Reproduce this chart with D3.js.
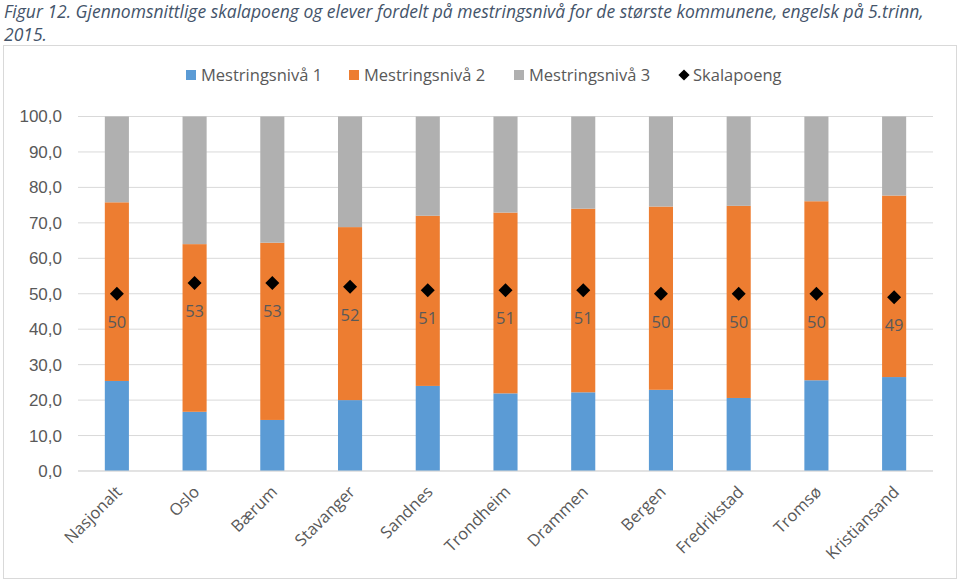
<!DOCTYPE html>
<html>
<head>
<meta charset="utf-8">
<script src="https://cdn.jsdelivr.net/npm/d3@7"></script>
<style>
  body { margin: 0; background: #fff; }
  svg { display: block; font-family: "Open Sans", sans-serif; }
</style>
</head>
<body>
<svg id="chart"></svg>
<script>
  // data
  const kommuner = ["Nasjonalt", "Oslo", "Bærum", "Stavanger", "Sandnes", "Trondheim",
                    "Drammen", "Bergen", "Fredrikstad", "Tromsø", "Kristiansand"];
  const niva1 = [25.4, 16.7, 14.4, 20.0, 24.0, 21.9, 22.2, 22.9, 20.6, 25.6, 26.5];
  const niva2 = [50.4, 47.3, 50.0, 48.8, 48.0, 51.0, 51.8, 51.7, 54.2, 50.5, 51.2];
  const niva3 = [24.2, 36.0, 35.6, 31.2, 28.0, 27.1, 26.0, 25.4, 25.2, 23.9, 22.3];
  const skalapoeng = [50, 53, 53, 52, 51, 51, 51, 50, 50, 50, 49];
  const yTicks = [0, 10, 20, 30, 40, 50, 60, 70, 80, 90, 100];
  const seriesNames = ["Mestringsnivå 1", "Mestringsnivå 2", "Mestringsnivå 3"];
  const colors = ["#5B9BD5", "#ED7D31", "#B0B0B0"];

  const width = 960, height = 581;
  const margin = { left: 78, right: 27, top: 116.5, bottom: 110 };

  const svg = d3.select("#chart").attr("width", width).attr("height", height);

  // caption
  const title = svg.append("text")
      .attr("fill", "#44546A")
      .style("font-style", "italic")
      .style("font-size", "17.5px");
  title.append("tspan").attr("x", 4).attr("y", 18)
      .text("Figur 12. Gjennomsnittlige skalapoeng og elever fordelt på mestringsnivå for de største kommunene, engelsk på 5.trinn,");
  title.append("tspan").attr("x", 4).attr("y", 41).text("2015.");

  // chart frame
  svg.append("rect")
      .attr("x", 3.5).attr("y", 45.5)
      .attr("width", 953).attr("height", 533)
      .attr("fill", "#fff").attr("stroke", "#D9D9D9");

  const x = d3.scaleBand()
      .domain(kommuner)
      .range([margin.left, width - margin.right])
      .paddingInner(0.69).paddingOuter(0.345);

  const y = d3.scaleLinear()
      .domain([0, 100])
      .range([height - margin.bottom, margin.top]);

  // gridlines
  svg.append("g")
      .selectAll("line")
      .data(yTicks)
      .enter().append("line")
      .attr("x1", margin.left).attr("x2", width - margin.right)
      .attr("y1", d => y(d)).attr("y2", d => y(d))
      .attr("stroke", "#D9D9D9").attr("stroke-width", 1);

  // y axis labels
  const yAxis = svg.append("g")
      .attr("transform", "translate(" + margin.left + ",0)")
      .call(d3.axisLeft(y).tickValues(yTicks).tickSize(0).tickPadding(16)
        .tickFormat(d => d3.format(".1f")(d).replace(".", ",")));
  yAxis.select(".domain").remove();
  yAxis.selectAll("text").attr("fill", "#595959").style("font-size", "17px");

  // stacked bars
  const rows = kommuner.map((k, i) => ({ k: k, n1: niva1[i], n2: niva2[i], n3: niva3[i] }));
  const stack = d3.stack().keys(["n1", "n2", "n3"])(rows);

  svg.append("g")
      .selectAll("g")
      .data(stack)
      .enter().append("g")
      .attr("fill", (d, i) => colors[i])
      .selectAll("rect")
      .data(d => d)
      .enter().append("rect")
      .attr("x", d => x(d.data.k))
      .attr("width", x.bandwidth())
      .attr("y", d => y(d[1]))
      .attr("height", d => y(d[0]) - y(d[1]));

  // axis line
  svg.append("line")
      .attr("x1", margin.left).attr("x2", width - margin.right)
      .attr("y1", y(0)).attr("y2", y(0))
      .attr("stroke", "#D9D9D9");

  // skalapoeng markers
  const diamond = d3.symbol().type(d3.symbolDiamond2).size(125);
  svg.append("g")
      .selectAll("path")
      .data(skalapoeng)
      .enter().append("path")
      .attr("d", diamond)
      .attr("fill", "#000")
      .attr("transform", (d, i) => "translate(" + (x(kommuner[i]) + x.bandwidth() / 2) + "," + y(d) + ")");

  svg.append("g")
      .selectAll("text")
      .data(skalapoeng)
      .enter().append("text")
      .attr("x", (d, i) => x(kommuner[i]) + x.bandwidth() / 2)
      .attr("y", d => y(d) + 34)
      .attr("text-anchor", "middle")
      .attr("fill", "#595959")
      .style("font-size", "16.5px")
      .text(d => d);

  // category labels
  svg.append("g")
      .selectAll("text")
      .data(kommuner)
      .enter().append("text")
      .attr("text-anchor", "end")
      .attr("fill", "#595959")
      .style("font-size", "16.5px")
      .attr("transform", d => "translate(" + (x(d) + x.bandwidth() / 2 + 6) + "," + (y(0) + 22) + ") rotate(-45)")
      .text(d => d);

  // legend
  const legendItems = [
    { label: seriesNames[0], color: colors[0], x: 186 },
    { label: seriesNames[1], color: colors[1], x: 349 },
    { label: seriesNames[2], color: colors[2], x: 514 },
    { label: "Skalapoeng", color: "#000", x: 678, marker: true }
  ];
  const legend = svg.append("g").selectAll("g")
      .data(legendItems)
      .enter().append("g")
      .attr("transform", d => "translate(" + d.x + ",75)");
  legend.filter(d => !d.marker).append("rect")
      .attr("x", 0).attr("y", -5).attr("width", 10).attr("height", 10)
      .attr("fill", d => d.color);
  legend.filter(d => d.marker).append("path")
      .attr("d", d3.symbol().type(d3.symbolDiamond2).size(80))
      .attr("transform", "translate(6,0)")
      .attr("fill", "#000");
  legend.append("text")
      .attr("x", 15)
      .attr("y", 0).attr("dy", "0.35em")
      .attr("fill", "#595959")
      .style("font-size", "16.5px")
      .text(d => d.label);
</script>
</body>
</html>
